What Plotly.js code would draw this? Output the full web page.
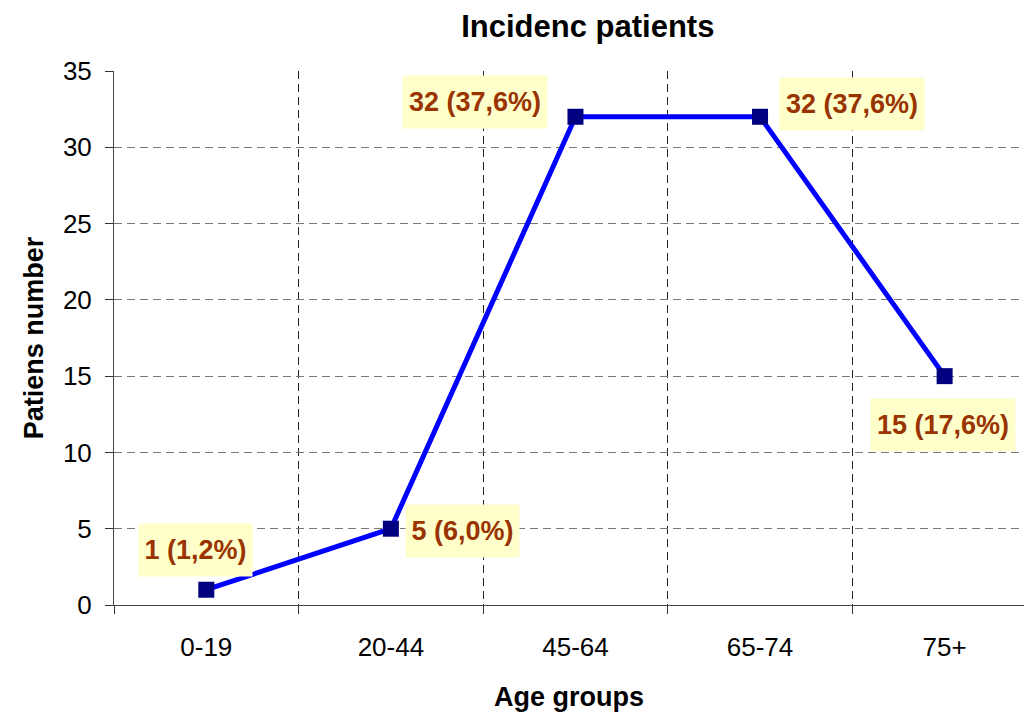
<!DOCTYPE html>
<html>
<head>
<meta charset="utf-8">
<script src="https://cdn.plot.ly/plotly-3.0.1.min.js"></script>
<style>html,body{margin:0;padding:0;background:#fff;}#chart{width:1024px;height:715px;}</style>
</head>
<body>
<div id="chart"></div>
<script>
// ---- data ----
const categories = ["0-19", "20-44", "45-64", "65-74", "75+"];
const patients = [1, 5, 32, 32, 15];
const percents = ["1,2", "6,0", "37,6", "37,6", "17,6"];

// ---- label placement (pixel offsets from each point) ----
const labelShiftX = [-11, 72, -100, 92, -2];
const labelShiftY = [40, -2, 15, 13, -49];

const FONT = "Liberation Sans, Arial, sans-serif";

const trace = {
  type: "scatter",
  mode: "lines+markers",
  x: categories,
  y: patients,
  line: {color: "#0000ff", width: 5},
  marker: {symbol: "square", size: 16, color: "#000080", line: {width: 0}},
  hoverinfo: "skip",
  showlegend: false
};

const annotations = categories.map((c, i) => {
  const txt = patients[i] + " (" + percents[i] + "%)";
  return {
    x: c, y: patients[i], xref: "x", yref: "y",
    text: "<b>" + txt + "</b>",
    showarrow: false,
    xshift: labelShiftX[i], yshift: labelShiftY[i],
    font: {family: FONT, size: 27, color: "#993300"},
    bgcolor: "#ffffcc",
    borderpad: 0,
    width: txt.length > 9 ? 144 : 113,
    height: 52
  };
});

const layout = {
  width: 1024, height: 715,
  paper_bgcolor: "#ffffff", plot_bgcolor: "#ffffff",
  margin: {l: 114, r: 0, t: 71, b: 110},
  title: {
    text: "<b>Incidenc patients</b>",
    font: {family: FONT, size: 31, color: "#000"},
    xref: "container", yref: "container",
    x: 0.574, xanchor: "center", y: 1 - 26/715, yanchor: "middle"
  },
  xaxis: {
    type: "category",
    range: [-0.5, 4.43],
    tickson: "boundaries",
    ticks: "outside", ticklen: 8, tickcolor: "#333",
    showgrid: true, gridcolor: "#222", gridwidth: 1, griddash: "8px,5px",
    showline: true, linecolor: "#444", linewidth: 1,
    tickfont: {family: FONT, size: 26, color: "#000"},
    ticklabelstandoff: 19,
    title: {text: "<b>Age groups</b>", font: {family: FONT, size: 27, color: "#000"}, standoff: 25},
    zeroline: false, fixedrange: true
  },
  yaxis: {
    range: [0, 35], dtick: 5, tick0: 0,
    ticks: "outside", ticklen: 8, tickcolor: "#333",
    showgrid: true, gridcolor: "#777", gridwidth: 1, griddash: "8px,5px",
    showline: true, linecolor: "#444", linewidth: 1,
    tickfont: {family: FONT, size: 26, color: "#000"},
    ticklabelstandoff: 8,
    title: {text: "<b>Patiens number</b>", font: {family: FONT, size: 27, color: "#000"}, standoff: 11},
    zeroline: false, fixedrange: true
  },
  annotations: annotations
};

Plotly.newPlot("chart", [trace], layout, {displayModeBar: false, staticPlot: true});
</script>
</body>
</html>
